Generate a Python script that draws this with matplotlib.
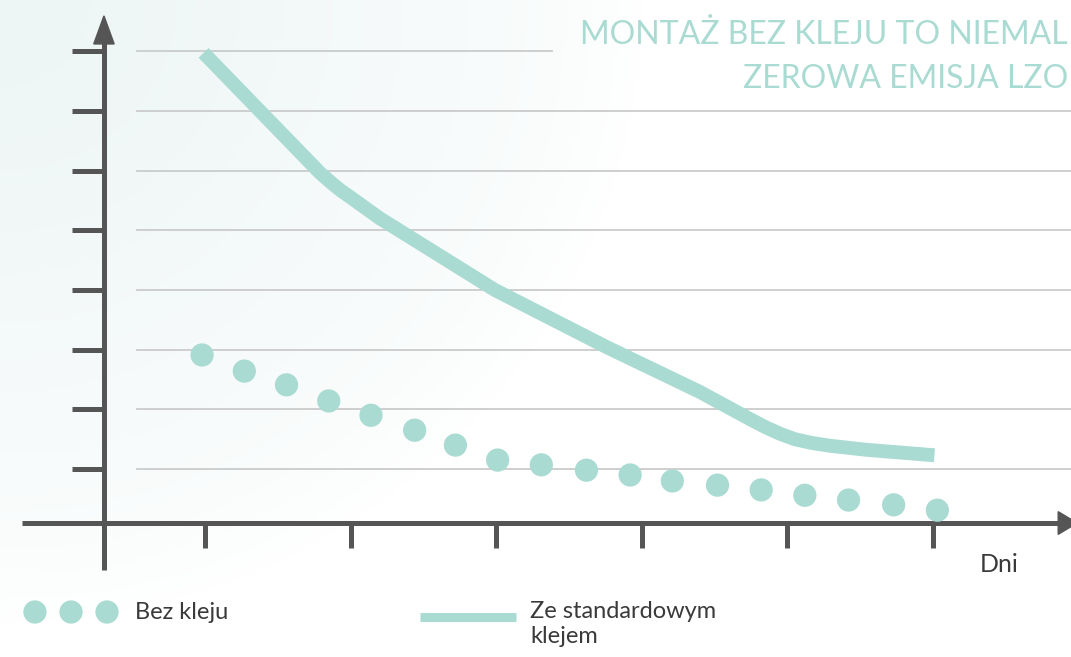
import numpy as np
import matplotlib.pyplot as plt

# dots - "Bez kleju"
dni_kropki = [0.98, 1.27, 1.56, 1.85, 2.14, 2.44, 2.72, 3.01, 3.31, 3.62, 3.92, 4.21,
              4.52, 4.82, 5.12, 5.42, 5.73, 6.03]
emisja_bez = [2.91, 2.64, 2.41, 2.14, 1.90, 1.65, 1.40, 1.15, 1.07, 0.98, 0.90, 0.80,
              0.73, 0.65, 0.56, 0.48, 0.40, 0.31]

# line - "Ze standardowym klejem"
dni_linia = [0.99, 1.79, 1.86, 1.93, 2.00, 2.08, 2.20, 2.99, 3.76, 4.40, 4.74,
             4.85, 4.95, 5.05, 5.16, 5.29, 5.55, 6.01]
emisja_klej = [7.97, 5.96, 5.81, 5.67, 5.55, 5.41, 5.20, 4.00, 3.04, 2.29, 1.84,
               1.70, 1.59, 1.50, 1.44, 1.39, 1.32, 1.23]

y_ticks = [1, 2, 3, 4, 5, 6, 7, 8]
x_ticks = [1, 2, 3, 4, 5, 6]

mint = '#a9dbd2'
grey = '#555555'
grid_col = '#cbcbcb'
txt_col = '#3a3a3a'

plt.rcParams['font.family'] = ['Lato', 'DejaVu Sans']

fig = plt.figure(figsize=(10.71, 6.57), dpi=100)
ax = fig.add_axes([0, 0, 1, 1])
x0, x1 = -0.408, 6.948
y0, y1 = -2.149, 8.856
ax.axis('off')

# soft background tint in the top-left corner
gx, gy = np.meshgrid(np.linspace(0, 1, 300), np.linspace(0, 1, 200))
d = np.sqrt((gx / 0.6) ** 2 + (gy / 0.95) ** 2)
w = np.clip(1 - d, 0, 1) ** 0.7
tint = np.array([237, 245, 245]) / 255
img = np.ones((200, 300, 3)) * (1 - w[..., None]) + tint * w[..., None]
ax.imshow(img, extent=[x0, x1, y0, y1], aspect='auto', zorder=0, origin='upper')
ax.set_xlim(x0, x1)
ax.set_ylim(y0, y1)

ax_x = 0.306      # position of y axis
ax_y = 0.0955     # position of x axis

# grid lines
for t in y_ticks:
    xmax = 3.384 if t == 8 else x1
    ax.plot([0.532, xmax], [t, t], color=grid_col, lw=1.3, zorder=1)

# axes
ax.plot([ax_x, ax_x], [-0.7, 8.2], color=grey, lw=3.6, zorder=3, solid_capstyle='butt')
ax.plot([-0.26, 6.88], [ax_y, ax_y], color=grey, lw=3.6, zorder=3, solid_capstyle='butt')
ax.fill([ax_x - 0.07, ax_x + 0.07, ax_x], [8.12, 8.12, 8.59], color=grey, zorder=3)
ax.fill([6.86, 6.86, 6.99], [ax_y + 0.19, ax_y - 0.19, ax_y], color=grey, zorder=3, clip_on=False)
for t in y_ticks:
    ax.plot([0.086, ax_x], [t, t], color=grey, lw=3.6, zorder=3, solid_capstyle='butt')
for t in x_ticks:
    ax.plot([t, t], [ax_y, -0.33], color=grey, lw=3.6, zorder=3, solid_capstyle='butt')

# data
ax.plot(dni_linia, emisja_klej, color=mint, lw=10, zorder=4, solid_capstyle='butt',
        solid_joinstyle='round')
ax.scatter(dni_kropki, emisja_bez, s=280, color=mint, edgecolors='none', zorder=5)

# labels
ax.text(6.323, -0.6, 'Dni', fontsize=18, color=txt_col, ha='left', va='center')
fig.text(0.997, 0.947, 'MONTAŻ BEZ KLEJU TO NIEMAL', fontsize=23, color=mint,
         ha='right', va='center')
fig.text(0.997, 0.880, 'ZEROWA EMISJA LZO', fontsize=23, color=mint,
         ha='right', va='center')

# legend
leg_y = 1 + (469 - 612) / 59.7
ax.scatter([-0.168, 0.080, 0.327], [leg_y] * 3, s=280, color=mint, edgecolors='none', zorder=5)
ax.text(0.519, leg_y, 'Bez kleju', fontsize=17, color=txt_col, ha='left', va='center')
leg_y2 = 1 + (469 - 617) / 59.7
ax.plot([2.477, 3.136], [leg_y2, leg_y2], color=mint, lw=6.5, solid_capstyle='butt')
ax.text(3.232, 1 + (469 - 601) / 59.7, 'Ze standardowym\nklejem', fontsize=17,
        color=txt_col, ha='left', va='top', linespacing=1.25)

fig.savefig('out.png', dpi=100)
